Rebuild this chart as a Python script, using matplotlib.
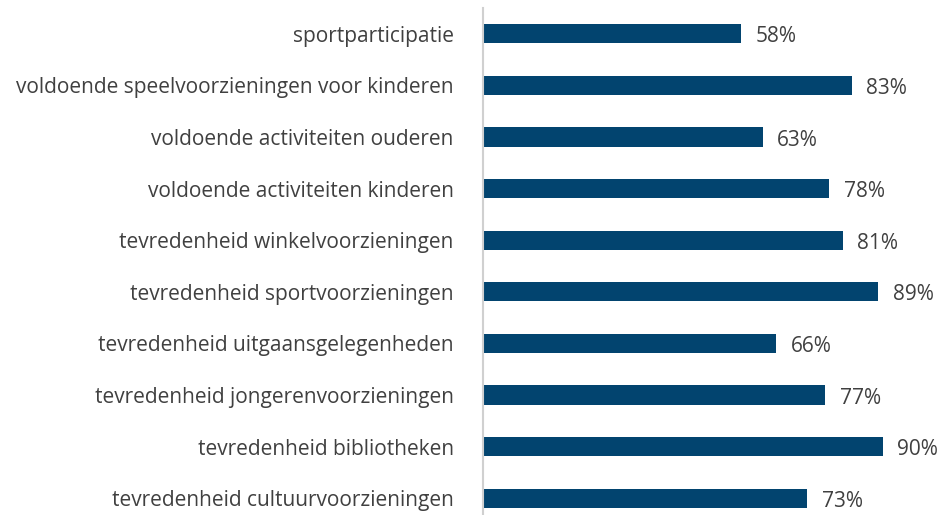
import matplotlib
matplotlib.use("Agg")
import matplotlib.pyplot as plt

categories = [
    "sportparticipatie",
    "voldoende speelvoorzieningen voor kinderen",
    "voldoende activiteiten ouderen",
    "voldoende activiteiten kinderen",
    "tevredenheid winkelvoorzieningen",
    "tevredenheid sportvoorzieningen",
    "tevredenheid uitgaansgelegenheden",
    "tevredenheid jongerenvoorzieningen",
    "tevredenheid bibliotheken",
    "tevredenheid cultuurvoorzieningen",
]
values = [58, 83, 63, 78, 81, 89, 66, 77, 90, 73]
value_labels = ["58%", "83%", "63%", "78%", "81%", "89%", "66%", "77%", "90%", "73%"]

plt.rcParams['font.family'] = ['Open Sans', 'DejaVu Sans']
W, H = 942, 515
fig = plt.figure(figsize=(W/100, H/100), dpi=100)
left = 483 / W
right = 927 / W
top_px, bot_px = 8, 524
ax = fig.add_axes([left, 1 - bot_px / H, right - left, (bot_px - top_px) / H])

n = len(categories)
ypos = list(range(n))
ax.barh(ypos, values, height=0.37, color="#02446F")
ax.set_ylim(n - 0.5, -0.5)
ax.set_xlim(0, 100)
for y, v, lab in zip(ypos, values, value_labels):
    ax.text(v + 3.3, y + 0.06, lab, va="center", ha="left", fontsize=15, color="#404040", clip_on=False)

ax.set_yticks(ypos)
ax.set_yticklabels(categories, fontsize=15, color="#404040")
ax.tick_params(axis="y", length=0, pad=21)
ax.set_xticks([])
for s in ["top", "right", "bottom"]:
    ax.spines[s].set_visible(False)
ax.spines["left"].set_color("#D0D0D0")
ax.spines["left"].set_linewidth(1.5)

fig.savefig("out.png", dpi=100)
